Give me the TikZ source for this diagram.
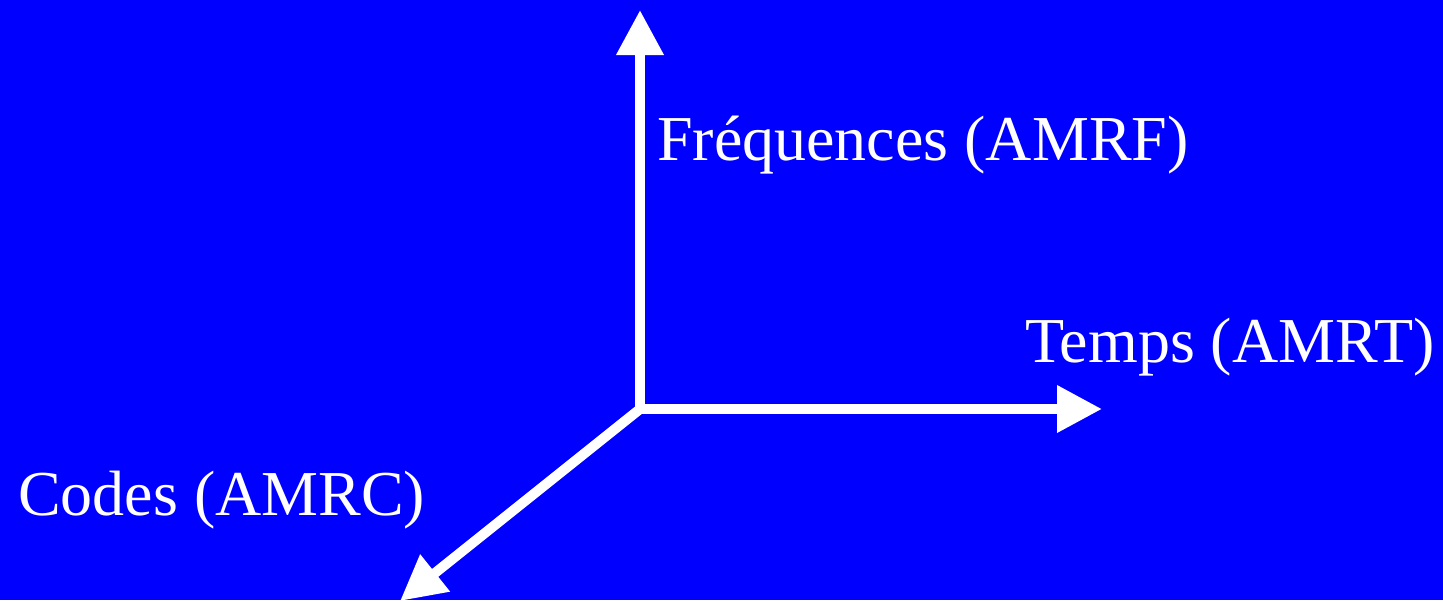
\documentclass[tikz,border=0pt]{standalone}
\usepackage{fontspec}
\setmainfont{Liberation Serif}
\usetikzlibrary{arrows.meta}
\begin{document}
\begin{tikzpicture}[x=1pt,y=-1pt,
  axis/.style={white,line width=10pt,-{Triangle[length=45pt,width=45pt]}},
  lbl/.style={text=white,font=\fontsize{64}{72}\selectfont,anchor=base west,inner sep=0pt}]
\fill[blue] (0,0) rectangle (1443,600);
\useasboundingbox (0,0) rectangle (1443,600);
\coordinate (O) at (640,409);
\coordinate (Ov) at (640,414);
\coordinate (Oh) at (635,409);
\coordinate (F) at (640,10);
\coordinate (T) at (1102,409);
\coordinate (C) at (400,601);
\draw[axis] (Ov) -- (F);
\draw[axis] (Oh) -- (T);
\draw[axis] (O) -- (C);
\node[lbl] (lf) at (657,160) {Fréquences (AMRF)};
\node[lbl] (lt) at (1025,362) {Temps (AMRT)};
\node[lbl] (lc) at (18,515) {Codes (AMRC)};
\end{tikzpicture}
\end{document}
